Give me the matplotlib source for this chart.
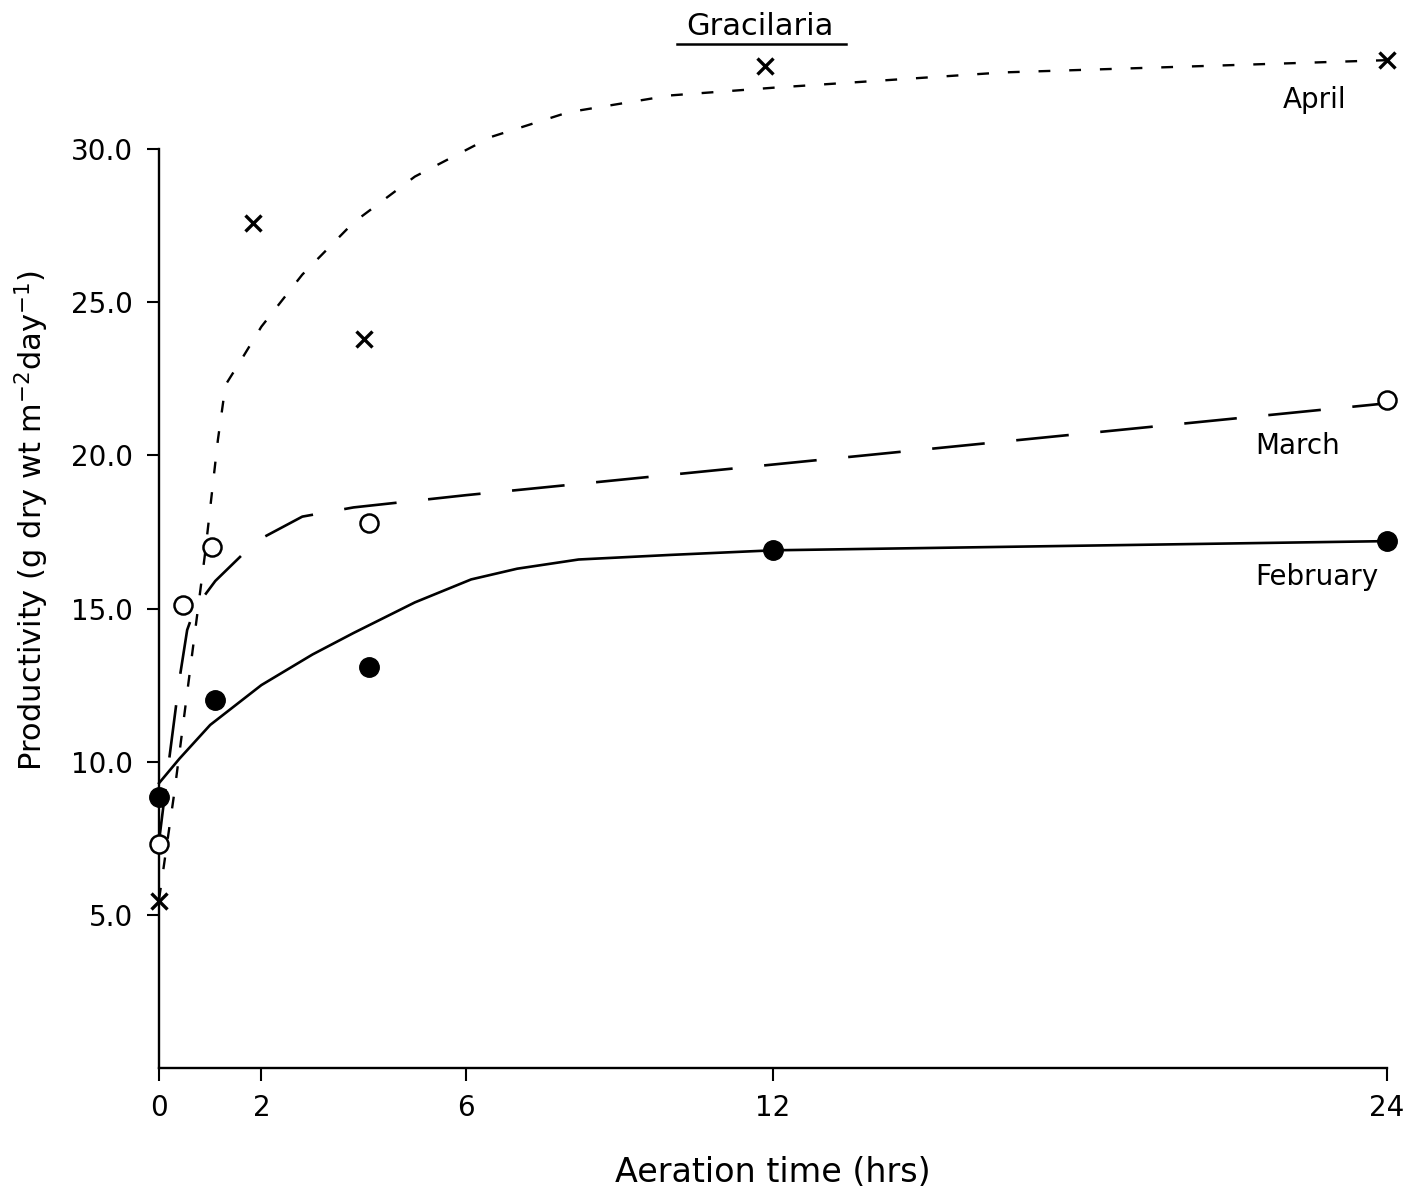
"""Gracilaria productivity vs aeration time, three monthly series."""

import matplotlib.pyplot as plt
from matplotlib.lines import Line2D

# measured points
feb_x = [0, 1.1, 4.1, 12, 24]
feb_y = [8.85, 12.0, 13.1, 16.9, 17.2]
mar_x = [0, 0.47, 1.04, 4.1, 24]
mar_y = [7.3, 15.1, 17.0, 17.8, 21.8]
apr_x = [0, 1.84, 4.0, 11.85, 24]
apr_y = [5.45, 27.6, 23.8, 32.7, 32.9]

# hand-drawn fitted curves
feb_curve_x = [0, 0.4, 1.0, 2.0, 3.0, 3.8, 5.0, 6.1, 7.0, 8.2, 10.0, 12.0, 24.0]
feb_curve_y = [9.3, 10.1, 11.2, 12.5, 13.5, 14.2, 15.2, 15.95, 16.3, 16.6, 16.75, 16.9, 17.2]
mar_curve_x = [0, 0.2, 0.4, 0.55, 0.7, 1.1, 1.9, 2.8, 3.8, 6.0, 12.0, 18.0, 24.0]
mar_curve_y = [7.4, 10.1, 12.7, 14.3, 15.0, 15.9, 17.2, 18.0, 18.3, 18.7, 19.7, 20.7, 21.7]
apr_curve_x = [0, 0.3, 0.6, 0.9, 1.15, 1.3, 1.6, 2.0, 2.8, 3.8, 5.0, 6.5, 8.0,
               10.0, 12.0, 16.5, 24.0]
apr_curve_y = [5.5, 9.0, 12.9, 16.8, 20.5, 22.3, 23.1, 24.2, 25.9, 27.6, 29.1, 30.4,
               31.2, 31.75, 32.0, 32.5, 32.9]

x_ticks = [0, 2, 6, 12, 24]
y_ticks = [5, 10, 15, 20, 25, 30]
y_tick_labels = ["5.0", "10.0", "15.0", "20.0", "25.0", "30.0"]

fig = plt.figure(figsize=(14.25, 11.92), dpi=100)
ax = fig.add_axes([0.1116, 0.104, 0.8618, 0.771])

ax.plot(feb_curve_x, feb_curve_y, color="black", lw=1.9, clip_on=False)
ax.plot(mar_curve_x, mar_curve_y, color="black", lw=1.9, dashes=(20, 12), clip_on=False)
ax.plot(apr_curve_x, apr_curve_y, color="black", lw=1.7, dashes=(5, 8), clip_on=False)

ax.plot(feb_x, feb_y, "o", color="black", ms=14, ls="none", clip_on=False, zorder=5)
ax.plot(mar_x, mar_y, "o", mfc="white", mec="black", mew=1.8, ms=13, ls="none",
        clip_on=False, zorder=5)
ax.plot(apr_x, apr_y, "x", color="black", mew=2.4, ms=11, ls="none",
        clip_on=False, zorder=5)

ax.set_xlim(0, 24)
ax.set_ylim(0, 30)
ax.set_xticks(x_ticks)
ax.set_xticklabels([str(t) for t in x_ticks], fontsize=20)
ax.set_yticks(y_ticks)
ax.set_yticklabels(y_tick_labels, fontsize=20)
ax.tick_params(axis="both", direction="out", length=9, width=1.5, pad=10)
for side in ["top", "right"]:
    ax.spines[side].set_visible(False)
for side in ["left", "bottom"]:
    ax.spines[side].set_linewidth(1.7)

ax.set_xlabel("Aeration time (hrs)", fontsize=24, labelpad=24)
ax.set_ylabel("Productivity (g dry wt m$^{-2}$day$^{-1}$)", fontsize=22)
ax.yaxis.set_label_coords(-0.088, 0.596)

ax.text(22.58, 31.6, "April", fontsize=20, ha="center", va="center", clip_on=False)
ax.text(22.25, 20.3, "March", fontsize=20, ha="center", va="center")
ax.text(22.62, 16.03, "February", fontsize=20, ha="center", va="center")

fig.text(0.533, 0.978, "Gracilaria", fontsize=22, ha="center", va="center")
fig.add_artist(Line2D([0.475, 0.594], [0.963, 0.963], color="black", lw=1.8,
                      transform=fig.transFigure))

fig.savefig("out.png", dpi=100, facecolor="white")
